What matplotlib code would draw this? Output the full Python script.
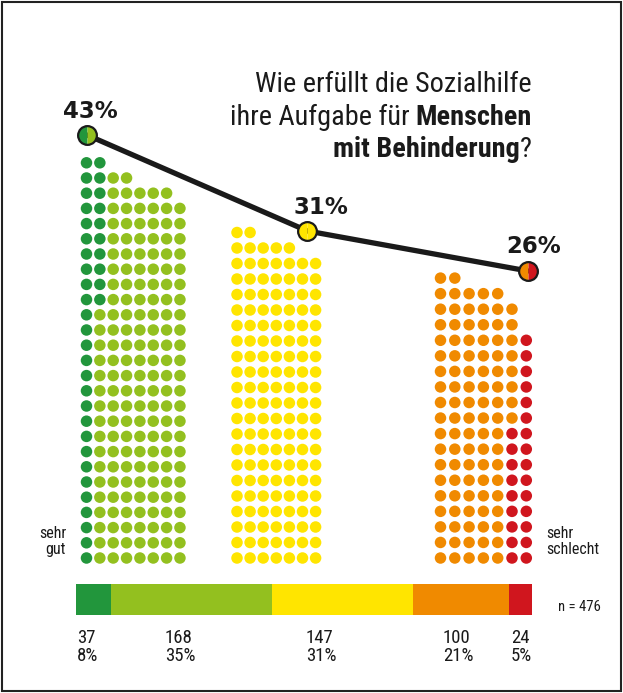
import matplotlib
matplotlib.use("Agg")
import matplotlib.pyplot as plt
from matplotlib.patches import Rectangle
import numpy as np

# ---------------- data ----------------
counts = [37, 168, 147, 100, 24]              # sehr gut ... sehr schlecht
count_pct = ["8%", "35%", "31%", "21%", "5%"]
groups = [[0, 1], [2], [3, 4]]                # positiv / mittel / negativ
group_pct = [43, 31, 26]
group_pct_labels = ["43%", "31%", "26%"]
n_total = 476

# ---------------- style / layout ----------------
colors = ["#22963c", "#93c01f", "#ffe500", "#f08a00", "#d0161e"]
group_width = [8, 7, 7]
group_top_rows = [[2, 4, 7], [2, 5], [2, 5, 6, 6]]
group_x0 = [86.5, 237.0, 440.5]
group_dx = [13.35, 13.1, 14.3]
group_dy = [15.2, 15.5, 15.55]
BASE_Y = 558.0
DOT_D = 11.5
W, H = 623, 693
NARROW = ["Roboto Condensed", "Liberation Sans Narrow", "Roboto"]
BOLDF = ["DejaVu Sans"]
label_x = [77, 165, 306, 443, 511]
pct_offsets = [(3, 17), (13, 17), (6, 18)]

fig = plt.figure(figsize=(W / 100, H / 100), dpi=100)
ax = fig.add_axes([0, 0, 1, 1])
ax.set_xlim(0, W)
ax.set_ylim(H, 0)
ax.axis("off")

# ---------------- waffle dots ----------------
s = (DOT_D * 72 / 100) ** 2
for g, members in enumerate(groups):
    cnts = [counts[m] for m in members]
    N = sum(cnts)
    wdt = group_width[g]
    top = group_top_rows[g]
    full = (N - sum(top)) // wdt
    heights = [full + sum(1 for p in top if p > c) for c in range(wdt)]
    cells = []
    for c in range(wdt):
        for r in range(heights[c] - 1, -1, -1):
            cells.append((c, r))
    cat = np.repeat(members, cnts)
    xs = np.array([group_x0[g] + c * group_dx[g] for c, r in cells])
    ys = np.array([BASE_Y - r * group_dy[g] for c, r in cells])
    cols = [colors[k] for k in cat]
    ax.scatter(xs, ys, s=s, c=cols, linewidths=0, zorder=2)

# ---------------- line with markers ----------------
ax2 = fig.add_axes([0, 0, 1, 1], zorder=3)
ax2.patch.set_visible(False)
ax2.axis("off")
px0, pstep = 87.0, 220.5
ax2.set_xlim(-px0 / pstep, (W - px0) / pstep)
ax2.set_ylim((479 - H) / 8, 479 / 8)
gx = np.arange(len(group_pct))
ax2.plot(gx, group_pct, color="#1a1a1a", lw=3.8, solid_capstyle="round", zorder=3)
marker_cols = [(colors[0], colors[1]), (colors[2], colors[2]), (colors[3], colors[4])]
for i, (v, (c1, c2)) in enumerate(zip(group_pct, marker_cols)):
    ax2.plot([i], [v], marker="o", ms=13.5, fillstyle="left", markerfacecolor=c1,
             markerfacecoloralt=c2, markeredgecolor="none", mew=0, zorder=4)
    ax2.plot([i], [v], marker="o", ms=13.5, fillstyle="none",
             markeredgecolor="#1a1a1a", mew=1.6, zorder=5)
    ax2.annotate(group_pct_labels[i], (i, v), xytext=pct_offsets[i], textcoords="offset pixels",
                 ha="center", va="baseline", fontsize=16.5, fontweight="bold",
                 family=BOLDF, color="#1a1a1a")

# ---------------- title ----------------
fig.canvas.draw()
rend = fig.canvas.get_renderer()
TS = 20.3
title_lines = [
    [("Wie erfüllt die Sozialhilfe", "normal", 0)],
    [("ihre Aufgabe für", "normal", 1), ("Menschen", "bold", 0)],
    [("mit Behinderung", "bold", 0), ("?", "normal", 0)],
]
baselines = [92, 125, 157]
right_x = 532
for parts, by in zip(title_lines, baselines):
    cur = right_x
    for txt, wgt, gap in reversed(parts):
        cur = cur - gap * TS * 0.32
        t = ax.text(cur, by, txt, ha="right", va="baseline", fontsize=TS,
                    fontweight=wgt, family=NARROW, fontstretch="condensed", color="#1a1a1a")
        bb = t.get_window_extent(renderer=rend)
        cur = cur - bb.width

# ---------------- scale labels ----------------
for y, t1, t2 in [(538, "sehr", "sehr"), (554, "gut", "schlecht")]:
    ax.text(66, y, t1, ha="right", va="baseline", fontsize=11.5, family=NARROW,
            fontstretch="condensed", color="#1a1a1a")
    ax.text(546, y, t2, ha="left", va="baseline", fontsize=11.5, family=NARROW,
            fontstretch="condensed", color="#1a1a1a")

# ---------------- stacked bar ----------------
ax3 = fig.add_axes([76 / W, 1 - 615 / H, 456 / W, 31 / H], zorder=2)
lefts = np.concatenate([[0], np.cumsum(counts)[:-1]])
ax3.barh(0, counts, left=lefts, height=1, color=colors, linewidth=0)
ax3.set_xlim(0, n_total)
ax3.set_ylim(-0.5, 0.5)
ax3.axis("off")

for x, cnt, pc in zip(label_x, counts, count_pct):
    ax.text(x, 643, str(cnt), ha="left", va="baseline", fontsize=13.5, family=NARROW,
            fontstretch="condensed", color="#1a1a1a")
    ax.text(x, 661, pc, ha="left", va="baseline", fontsize=13.5, family=NARROW,
            fontstretch="condensed", color="#1a1a1a")

ax.text(558, 611, f"n = {n_total}", ha="left", va="baseline", fontsize=10.5, family=NARROW,
        fontstretch="condensed", color="#1a1a1a")

# ---------------- frame ----------------
ax.add_patch(Rectangle((2, 2), W - 4, H - 4, fill=False, lw=1.5, ec="#222222", zorder=5))

fig.savefig("out.png", dpi=100)
